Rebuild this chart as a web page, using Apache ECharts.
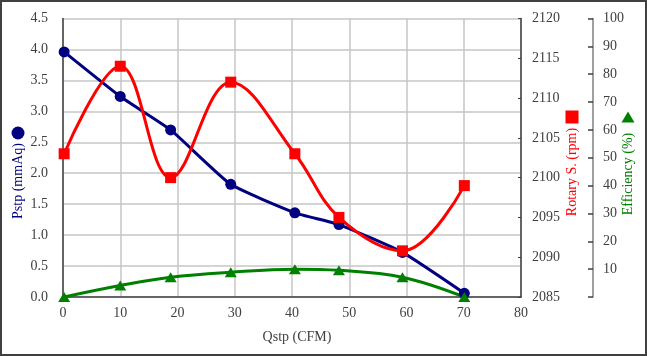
<!DOCTYPE html>
<html><head><meta charset="utf-8">
<script src="https://cdn.jsdelivr.net/npm/echarts@6/dist/echarts.min.js"></script>
<style>html,body{margin:0;padding:0;background:#fff}#c{width:647px;height:356px}</style>
</head><body><div id="c"></div>
<script>
var qstp = [0.2, 10, 18.8, 29.3, 40.5, 48.2, 59.3, 70.1];
var pstp = [3.96, 3.24, 2.70, 1.82, 1.36, 1.17, 0.72, 0.06];
var rotary = [2103.0, 2114.0, 2100.0, 2112.0, 2103.0, 2095.0, 2090.8, 2099.0];
var efficiency = [0, 4.1, 7.1, 8.9, 10.0, 9.6, 7.1, 0];
var xName = 'Qstp (CFM)', y1Name = 'Pstp (mmAq)', y2Name = 'Rotary S. (rpm)', y3Name = 'Efficiency (%)';

function pairs(xs, ys){ return xs.map(function(x,i){ return [x, ys[i]]; }); }
var FONT = 'Liberation Serif';
var LBL = {color:'#404040', fontSize:14, fontFamily:FONT, fontWeight:'normal', fontStyle:'normal'};
function lbl(extra){ var o = {}; for (var k in LBL) o[k]=LBL[k]; for (var k2 in extra) o[k2]=extra[k2]; return o; }
var chart = echarts.init(document.getElementById('c'), null, {renderer:'canvas'});
chart.setOption({
  animation:false,
  backgroundColor:'#fff',
  textStyle:{fontFamily:FONT},
  grid:{left:63, top:18.5, width:458, height:278.5, outerBoundsMode:'none', containLabel:false},
  xAxis:{type:'value', min:0, max:80, interval:10,
    axisLine:{show:true, lineStyle:{color:'#404040', width:1.5}},
    axisTick:{show:false},
    axisLabel:lbl({margin:9}),
    splitLine:{show:true, lineStyle:{color:'#c6c6c6', width:1.5}}
  },
  yAxis:[
    {type:'value', min:0, max:4.5, interval:0.5, position:'left',
      axisLine:{show:true, lineStyle:{color:'#404040', width:1.5}},
      axisTick:{show:false},
      axisLabel:lbl({margin:15, formatter:function(v){return v.toFixed(1);}}),
      splitLine:{show:true, lineStyle:{color:'#c6c6c6', width:1.5}}
    },
    {type:'value', min:2085, max:2120, interval:5, position:'right',
      axisLine:{show:true, lineStyle:{color:'#404040', width:1.5}},
      axisTick:{show:true, inside:true, length:3, lineStyle:{color:'#404040'}},
      axisLabel:lbl({margin:11, formatter:function(v){return String(v);}}),
      splitLine:{show:false}
    },
    {type:'value', min:0, max:100, interval:10, position:'right', offset:72,
      axisLine:{show:true, lineStyle:{color:'#808080', width:1.5}},
      axisTick:{show:true, inside:true, length:5, lineStyle:{color:'#404040', width:1.5}},
      axisLabel:lbl({margin:10, formatter:function(v){return v===0?'':String(v);}}),
      splitLine:{show:false}
    }
  ],
  series:[
    {type:'line', yAxisIndex:0, data:pairs(qstp,pstp), smooth:0.15,
      symbol:'circle', symbolSize:11, lineStyle:{color:'#000080', width:3},
      itemStyle:{color:'#000080'}},
    {type:'line', yAxisIndex:1, data:pairs(qstp,rotary), smooth:0.38,
      symbol:'rect', symbolSize:11, lineStyle:{color:'#ff0000', width:3},
      itemStyle:{color:'#ff0000'}},
    {type:'line', yAxisIndex:2, data:pairs(qstp,efficiency), smooth:0.38,
      symbol:'triangle', symbolSize:[12,10], lineStyle:{color:'#008000', width:3},
      itemStyle:{color:'#008000'}}
  ],
  graphic:[
    {type:'rect', shape:{x:1, y:1, width:645, height:354}, style:{fill:null, stroke:'#404040', lineWidth:2}, silent:true},
    {type:'text', x:297, y:337, style:{text:xName, fill:'#404040', fontSize:14, fontFamily:FONT, textAlign:'center', textVerticalAlign:'middle'}},
    {type:'circle', shape:{cx:18, cy:133, r:6.5}, style:{fill:'#000080'}},
    {type:'text', x:18, y:181, rotation:Math.PI/2, style:{text:y1Name, fill:'#000080', fontSize:14, fontFamily:FONT, textAlign:'center', textVerticalAlign:'middle'}},
    {type:'rect', shape:{x:565.5, y:110.5, width:13, height:13}, style:{fill:'#ff0000'}},
    {type:'text', x:572, y:172, rotation:Math.PI/2, style:{text:y2Name, fill:'#ff0000', fontSize:14, fontFamily:FONT, textAlign:'center', textVerticalAlign:'middle'}},
    {type:'polygon', shape:{points:[[628,111.5],[634.5,122.5],[621.5,122.5]]}, style:{fill:'#008000'}},
    {type:'text', x:628, y:174, rotation:Math.PI/2, style:{text:y3Name, fill:'#008000', fontSize:14, fontFamily:FONT, textAlign:'center', textVerticalAlign:'middle'}}
  ]
});
</script></body></html>
